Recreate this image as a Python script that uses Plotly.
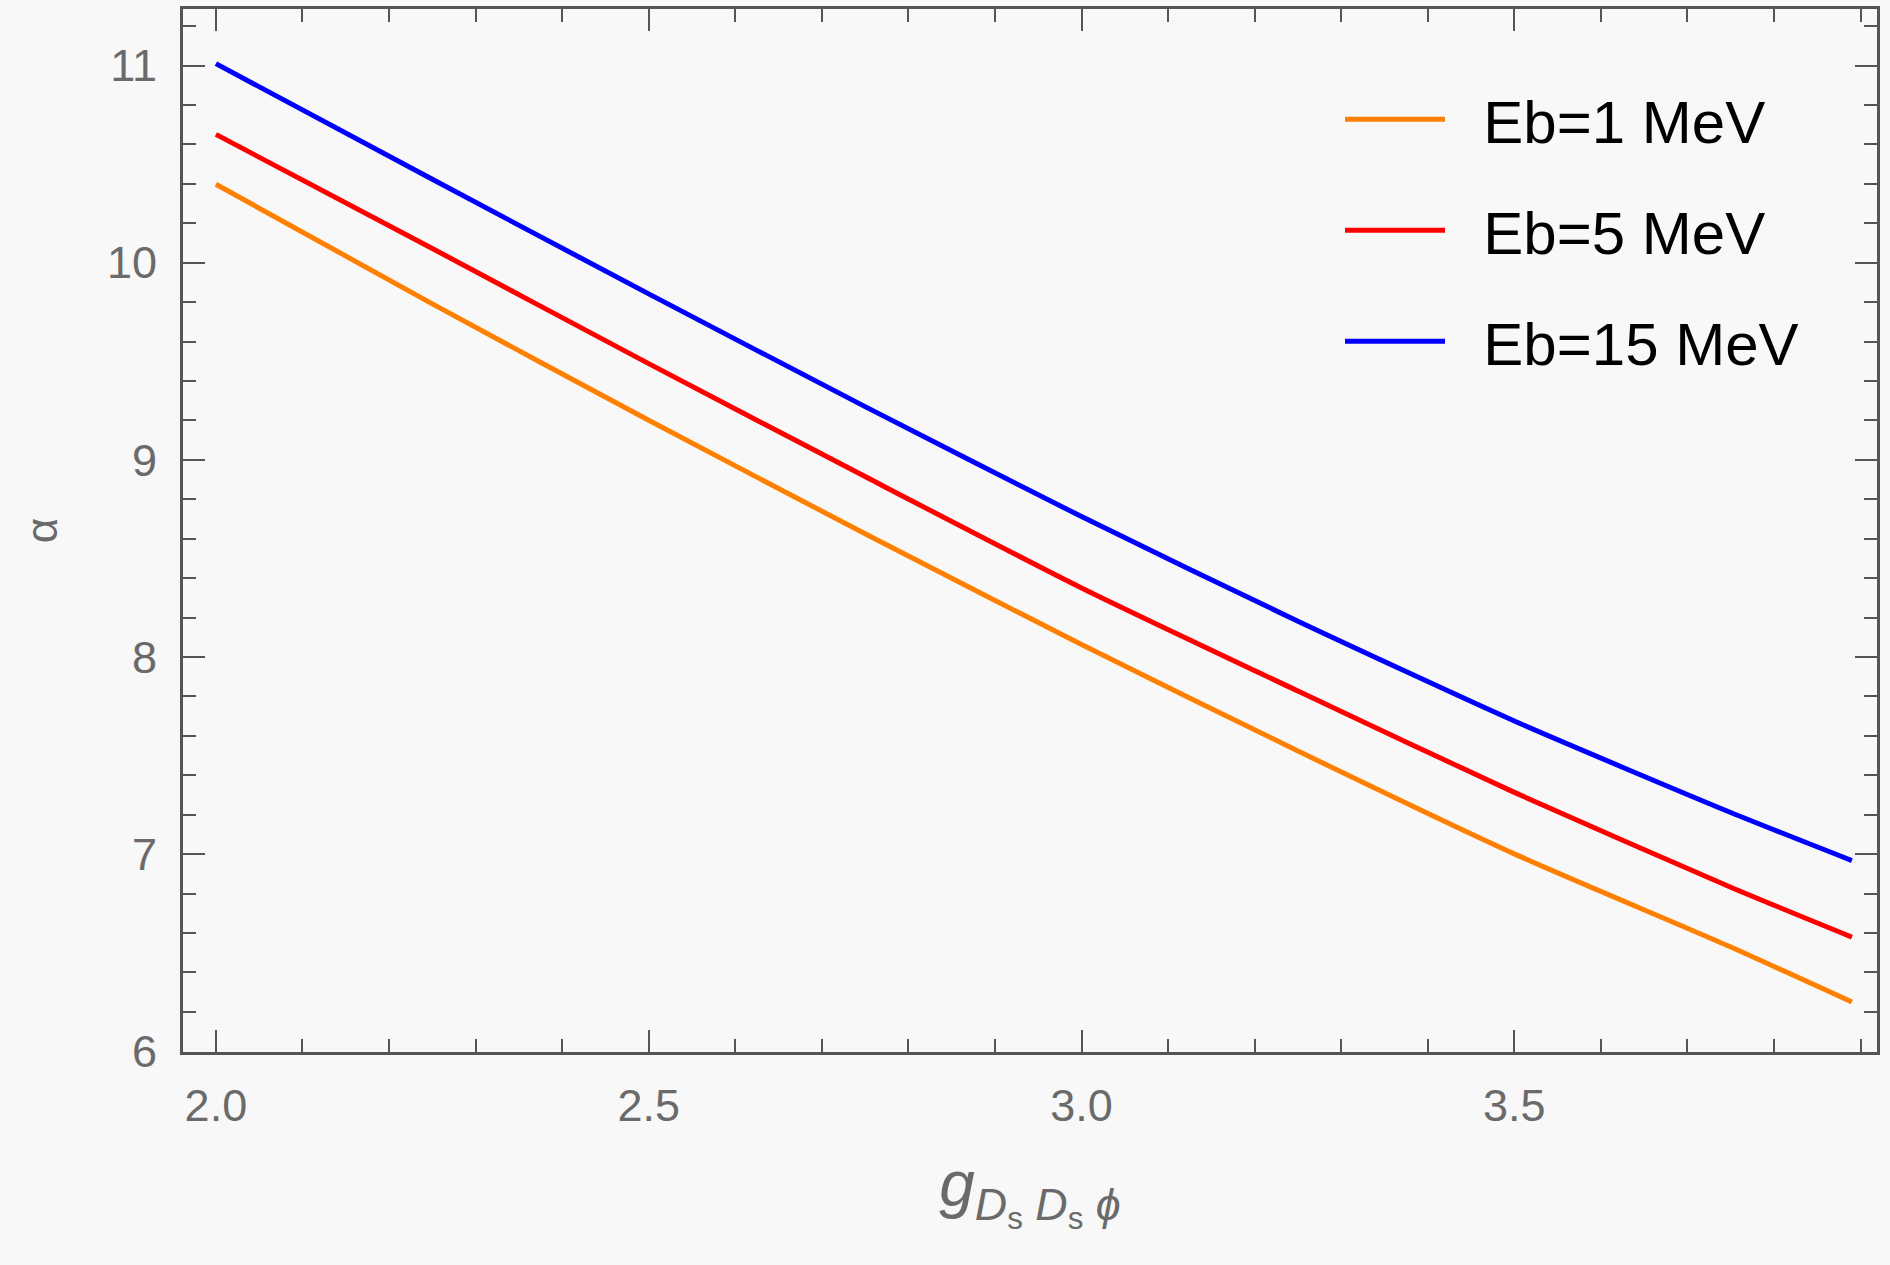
import plotly.graph_objects as go

# Data
g_values = [2.0, 2.25, 2.5, 2.75, 3.0, 3.25, 3.5, 3.75, 3.89]
alpha_eb1 = [10.398, 9.791, 9.201, 8.625, 8.063, 7.523, 7.001, 6.529, 6.250]
alpha_eb5 = [10.651, 10.072, 9.488, 8.915, 8.350, 7.827, 7.313, 6.832, 6.579]
alpha_eb15 = [11.01, 10.423, 9.842, 9.27, 8.712, 8.181, 7.675, 7.211, 6.967]
series_names = ["Eb=1 MeV", "Eb=5 MeV", "Eb=15 MeV"]
series_colors = ["#FF8000", "#FF0000", "#0000FF"]
x_ticks = [2.0, 2.5, 3.0, 3.5]
x_tick_labels = ["2.0", "2.5", "3.0", "3.5"]
y_ticks = [6, 7, 8, 9, 10, 11]
y_tick_labels = ["6", "7", "8", "9", "10", "11"]

fig = go.Figure()
for i, (name, ys, col) in enumerate(zip(series_names, [alpha_eb1, alpha_eb5, alpha_eb15], series_colors)):
    fig.add_trace(go.Scatter(
        x=g_values, y=ys, mode="lines", name="\u00a0\u00a0" + name,
        line=dict(color=col, width=5, shape="spline", smoothing=0.6),
        legendgroup=f"g{i}",
    ))

frame = "#555555"
fontfam = "Liberation Sans, Arial, sans-serif"
tickfont = dict(family=fontfam, size=45, color="#6a6a6a")
common = dict(
    showline=True, linecolor=frame, linewidth=3, mirror="ticks",
    ticks="inside", ticklen=22, tickwidth=2, tickcolor=frame,
    showgrid=False, zeroline=False, tickfont=tickfont,
)
fig.update_xaxes(
    range=[1.962, 3.919], tickvals=x_ticks, ticktext=x_tick_labels,
    minor=dict(dtick=0.1, tick0=2.0, ticks="inside", ticklen=13, tickwidth=2, tickcolor=frame),
    ticklabelstandoff=12,
    title=dict(text="<i>g</i><sub><i>D</i><sub>s</sub> <i>D</i><sub>s</sub> <i>\u03d5</i></sub>",
               font=dict(family=fontfam, size=64, color="#6a6a6a"),
               standoff=32),
    **common,
)
fig.update_yaxes(
    range=[5.996, 11.287], tickvals=y_ticks, ticktext=y_tick_labels,
    minor=dict(dtick=0.2, tick0=6, ticks="inside", ticklen=13, tickwidth=2, tickcolor=frame),
    ticklabelstandoff=14,
    title=dict(text="α", font=dict(family=fontfam, size=44, color="#6a6a6a"),
               standoff=36),
    **common,
)
fig.update_layout(
    width=1890, height=1265,
    margin=dict(l=183, r=13, t=6, b=213),
    paper_bgcolor="#f8f8f8", plot_bgcolor="#f8f8f8",
    showlegend=True,
    legend=dict(
        x=0.683, y=0.938, xanchor="left", yanchor="top",
        bgcolor="rgba(0,0,0,0)", borderwidth=0,
        font=dict(family=fontfam, size=60, color="#000000"),
        tracegroupgap=30, itemwidth=100, traceorder="grouped",
    ),
)
fig.write_html("out.html", config={"displayModeBar": False},
               post_script="document.body.style.margin='0';")
